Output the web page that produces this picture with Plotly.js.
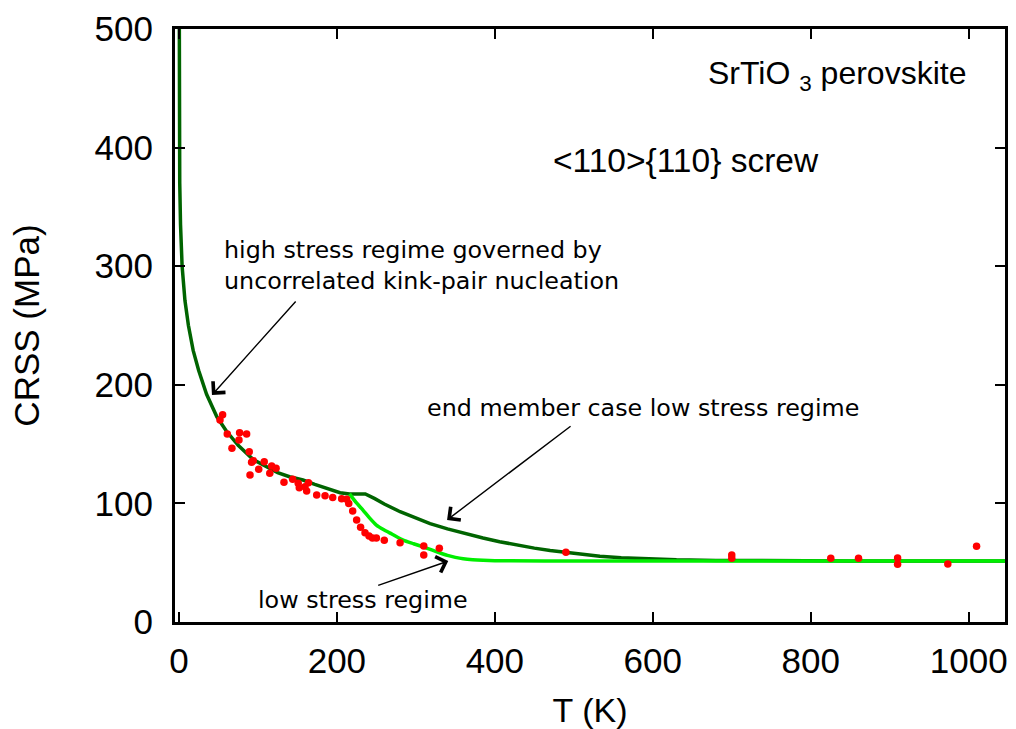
<!DOCTYPE html>
<html>
<head>
<meta charset="utf-8">
<script src="https://cdn.plot.ly/plotly-3.0.1.min.js"></script>
<style>html,body{margin:0;padding:0;background:#fff;}#chart{width:1016px;height:729px;}</style>
</head>
<body>
<div id="chart"></div>
<script>
// High-stress / end-member model curve (dark green)
const darkT = [0.1, 0.2, 0.5, 1, 2, 4, 7.6, 12, 18, 25, 35, 48, 60, 75, 94, 110, 125, 140, 157, 172, 185, 204, 216, 236, 248, 260, 280, 300, 318, 340, 360, 385, 406, 430, 450, 470, 491, 510, 533, 560, 590, 630, 680, 750, 850, 1050];
const darkCRSS = [600, 500, 420, 370, 335, 300, 271, 250, 229, 212, 192, 173, 161, 149, 137, 131, 126, 122.5, 119.7, 116, 113, 109, 108, 108, 104, 99.5, 93, 87.5, 83, 78.5, 74.8, 70.8, 67.7, 64.6, 62.3, 60.3, 58.5, 57, 55.5, 54.2, 53.2, 52.4, 51.9, 51.6, 51.5, 51.5];

// Low-stress regime curve (light green)
const lightT = [216, 224, 233, 241, 250, 260, 270, 284, 297, 309, 320, 330, 340, 350, 360, 372, 385, 400, 420, 500, 700, 1050];
const lightCRSS = [108, 101, 94.4, 88, 81.7, 77.5, 74, 69, 66, 63.4, 60.8, 58.4, 56.2, 54.5, 53.3, 52.5, 52, 51.7, 51.6, 51.5, 51.5, 51.5];

// Experimental data (red points)
const expT = [55.3, 52, 61.2, 76.8, 85.7, 76, 67.1, 89, 94.1, 92, 108, 90, 101, 117.4, 123, 115, 133, 144, 151, 152.4, 164, 159.6, 161.7, 174.4, 185, 194.7, 206, 212.4, 215, 220, 225, 230, 235.6, 240.7, 245, 250, 260, 280, 310, 310, 329.7, 490, 700, 700, 825.4, 860.5, 910, 910, 973.6, 1010];
const expCRSS = [174.8, 170.3, 158.5, 159.6, 158.5, 153.5, 146.4, 143.6, 136, 134.6, 135.2, 124, 128.7, 131.5, 129.6, 125.4, 117.8, 120.3, 117, 113.2, 117.5, 114, 110.5, 107, 106.5, 105, 104, 103.4, 100, 93.6, 86, 79.8, 75.3, 72.5, 70.8, 70.8, 68.9, 66.9, 64.1, 56.5, 62.1, 58.8, 56.5, 53.7, 53.7, 53.7, 54, 48.6, 48.9, 63.8];

const xTicks = [0, 200, 400, 600, 800, 1000];
const yTicks = [0, 100, 200, 300, 400, 500];

const traces = [
  {x: darkT, y: darkCRSS, mode: 'lines', line: {color: '#006400', width: 3.5}, hoverinfo: 'skip'},
  {x: lightT, y: lightCRSS, mode: 'lines', line: {color: '#00ee00', width: 3.5, shape: 'spline', smoothing: 0.6}, hoverinfo: 'skip'},
  {x: expT, y: expCRSS, mode: 'markers', marker: {color: '#ff0000', size: 7.5}, hoverinfo: 'skip'}
];

const SANS = 'Liberation Sans, Arial, sans-serif';
const annFont = {family: 'DejaVu Sans', size: 23.8, color: '#000'};
const arrowBase = {text: '', showarrow: true, axref: 'x', ayref: 'y', arrowhead: 4, arrowsize: 2.3, arrowwidth: 1.4, arrowcolor: '#000', standoff: 0};

const layout = {
  width: 1016, height: 729,
  margin: {l: 175, r: 11, t: 29, b: 107},
  paper_bgcolor: '#fff', plot_bgcolor: '#fff',
  showlegend: false,
  font: {family: SANS, color: '#000'},
  xaxis: {
    range: [-5, 1046], tickvals: xTicks, ticktext: xTicks.map(String),
    ticks: 'inside', ticklen: 10, tickwidth: 2, tickcolor: '#000',
    showline: true, linecolor: '#000', linewidth: 3, mirror: 'allticks',
    showgrid: false, zeroline: false,
    tickfont: {size: 35, family: SANS},
    ticklabelstandoff: 6,
    title: {text: 'T (K)', font: {size: 34, family: SANS}, standoff: 20}
  },
  yaxis: {
    range: [0, 500], tickvals: yTicks, ticktext: yTicks.map(String),
    ticks: 'inside', ticklen: 10, tickwidth: 2, tickcolor: '#000',
    showline: true, linecolor: '#000', linewidth: 3, mirror: 'allticks',
    showgrid: false, zeroline: false,
    tickfont: {size: 35, family: SANS},
    ticklabelstandoff: 12,
    title: {text: 'CRSS (MPa)', font: {size: 35, family: SANS}, standoff: 45}
  },
  annotations: [
    {x: 54.5, y: 301, xref: 'x', yref: 'y', xanchor: 'left', yanchor: 'middle', align: 'left', showarrow: false,
     text: 'high stress regime governed by<br>uncorrelated kink-pair nucleation', font: annFont},
    {x: 311.6, y: 180.4, xref: 'x', yref: 'y', xanchor: 'left', yanchor: 'middle', showarrow: false,
     text: 'end member case low stress regime', font: annFont},
    {x: 97.5, y: 18.5, xref: 'x', yref: 'y', xanchor: 'left', yanchor: 'middle', showarrow: false,
     text: 'low stress regime', font: annFont},
    {x: 999, y: 461, xref: 'x', yref: 'y', xanchor: 'right', yanchor: 'middle', showarrow: false,
     text: 'SrTiO <sub>3</sub> perovskite', font: {family: SANS, size: 32, color: '#000'}},
    {x: 471, y: 389.5, xref: 'x', yref: 'y', xanchor: 'left', yanchor: 'middle', showarrow: false,
     text: '&lt;110&gt;{110} screw', font: {family: SANS, size: 33.5, color: '#000'}},
    Object.assign({}, arrowBase, {x: 41.8, y: 191.4, ax: 149.5, ay: 271.5}),
    Object.assign({}, arrowBase, {x: 339.5, y: 86, ax: 497.8, ay: 166}),
    Object.assign({}, arrowBase, {x: 341, y: 51.4, ax: 250.4, ay: 30.4})
  ]
};

Plotly.newPlot('chart', traces, layout, {displayModeBar: false, staticPlot: true});
</script>
</body>
</html>
